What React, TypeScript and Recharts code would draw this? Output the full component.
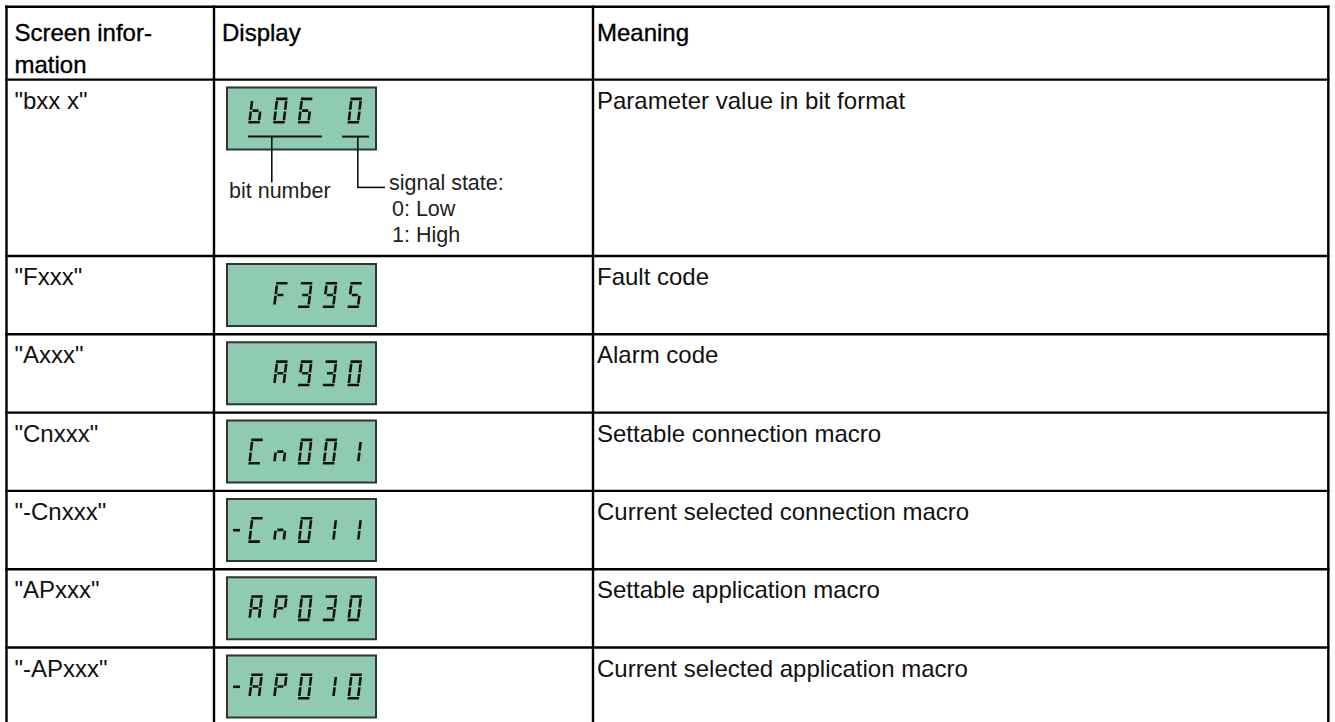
import React from "react";
import { Surface, Layer, Rectangle, Polygon, Text } from "recharts";

// table content
const headers = [["Screen infor-", "mation"], ["Display"], ["Meaning"]];
const screenInfo = ['"bxx x"', '"Fxxx"', '"Axxx"', '"Cnxxx"', '"-Cnxxx"', '"APxxx"', '"-APxxx"'];
const displayCodes = ["b06 0", "F395", "A930", "Cn001", "-Cn011", "AP030", "-AP010"];
const meanings = [
  "Parameter value in bit format",
  "Fault code",
  "Alarm code",
  "Settable connection macro",
  "Current selected connection macro",
  "Settable application macro",
  "Current selected application macro",
];
const bitLabel = "bit number";
const signalLabels = ["signal state:", "0: Low", "1: High"];

// seven segment map
const SEGMENTS: Record<string, string> = {
  "0": "abcdef",
  "1": "bc",
  "3": "abcdg",
  "5": "acdfg",
  "6": "acdefg",
  "9": "abcdfg",
  b: "cdefg",
  F: "aefg",
  A: "abcefg",
  P: "abefg",
  C: "adef",
  n: "ceg",
};

// layout (px)
const W = 1335;
const H = 722;
const FONT = "'Liberation Sans', Arial, Helvetica, sans-serif";
const colLines = [6.5, 214, 593, 1328.3];
const tableTop = 6.8;
const headerBottom = 79.6;
const firstRowH = 176.4;
const rowH = 78.3;
const lineW = 2.4;
const lcdX = 227;
const lcdW = 149;
const lcdH = 62;
const slotX0 = 248;
const slotPitch = 24.8;
const minusX = 233;

const rowTops = screenInfo.map((_, i) =>
  i === 0 ? headerBottom : headerBottom + firstRowH + (i - 1) * rowH
);
const tableBottom = rowTops[rowTops.length - 1] + rowH;

type Pt = { x: number; y: number };

function Glyph({ ch, x, y }: { ch: string; x: number; y: number }) {
  const segs = SEGMENTS[ch];
  if (!segs) return null;
  const h = 26;
  const w = 12;
  const t = 2.6;
  const k = 0.12;
  const g = 0.8;
  const m = h / 2;
  const sk = (px: number, py: number): Pt => ({ x: x + px + (h - py) * k, y: y + py });
  const hz = (yc: number, x1: number, x2: number) => [
    sk(x1, yc - t / 2),
    sk(x2, yc - t / 2),
    sk(x2, yc + t / 2),
    sk(x1, yc + t / 2),
  ];
  const vt = (xc: number, y1: number, y2: number) => [
    sk(xc - t / 2, y1),
    sk(xc + t / 2, y1),
    sk(xc + t / 2, y2),
    sk(xc - t / 2, y2),
  ];
  const geo: Record<string, Pt[]> = {
    a: hz(t / 2, 0.3, w - 0.3),
    d: hz(h - t / 2, 0.3, w - 0.3),
    g: hz(m, t + 0.4, w - t - 0.4),
    f: vt(t / 2, t + g, m - g),
    b: vt(w - t / 2, t + g, m - g),
    e: vt(t / 2, m + g, h - t - g),
    c: vt(w - t / 2, m + g, h - t - g),
  };
  return (
    <Layer>
      {segs.split("").map((s) => (
        <Polygon key={s} points={geo[s]} fill="#111" stroke="none" />
      ))}
    </Layer>
  );
}

function Lcd({ code, top, digitTop }: { code: string; top: number; digitTop: number }) {
  const minus = code.startsWith("-");
  const body = (minus ? code.slice(1) : code).padStart(5, " ");
  return (
    <Layer>
      <Rectangle x={lcdX} y={top} width={lcdW} height={lcdH} fill="#8fcbb0" stroke="#333" strokeWidth={2} />
      {minus && (
        <Rectangle x={minusX} y={digitTop + 12} width={7} height={2.6} fill="#111" />
      )}
      {body.split("").map((ch, i) => (
        <Glyph key={i} ch={ch} x={slotX0 + i * slotPitch} y={digitTop} />
      ))}
    </Layer>
  );
}

function HLine({ y, x1 = colLines[0], x2 = colLines[3] }: { y: number; x1?: number; x2?: number }) {
  return <Rectangle x={x1 - lineW / 2} y={y - lineW / 2} width={x2 - x1 + lineW} height={lineW} fill="#000" />;
}

function VLine({ x, y1, y2 }: { x: number; y1: number; y2: number }) {
  return <Rectangle x={x - lineW / 2} y={y1 - lineW / 2} width={lineW} height={y2 - y1 + lineW} fill="#000" />;
}

function BitAnnotations({ top }: { top: number }) {
  const ul = top + 49;
  return (
    <Layer>
      <Rectangle x={248} y={ul - 1} width={74} height={2} fill="#111" />
      <Rectangle x={342} y={ul - 1} width={27} height={2} fill="#111" />
      <Rectangle x={271} y={ul} width={1.6} height={46} fill="#111" />
      <Rectangle x={357} y={ul} width={1.6} height={51} fill="#111" />
      <Rectangle x={357} y={ul + 50} width={28} height={1.6} fill="#111" />
      <Text x={229} y={198} fontSize={21.5} fontFamily={FONT} fill="#222">
        {bitLabel}
      </Text>
      {signalLabels.map((s, i) => (
        <Text key={s} x={i === 0 ? 389 : 392} y={190 + i * 26} fontSize={21.5} fontFamily={FONT} fill="#222">
          {s}
        </Text>
      ))}
    </Layer>
  );
}

export default function App() {
  const textX = [14.5, 222, 597];
  return (
    <div style={{ position: "absolute", left: 0, top: 0, width: W, height: H, background: "#fff" }}>
      <Surface width={W} height={H} viewBox={{ x: 0, y: 0, width: W, height: H }}>
        <Rectangle x={0} y={0} width={W} height={H} fill="#fff" />
        {/* header */}
        {headers.map((lines, c) =>
          lines.map((l, j) => (
            <Text
              key={`${c}-${j}`}
              x={textX[c]}
              y={41 + j * 32}
              fontSize={24}
              fontFamily={FONT}
              fill="#000"
              stroke="#000"
              strokeWidth={0.35}
            >
              {l}
            </Text>
          ))
        )}
        {/* rows */}
        {screenInfo.map((label, i) => {
          const top = rowTops[i];
          return (
            <Layer key={label}>
              <Text x={textX[0]} y={top + 29} fontSize={24} fontFamily={FONT} fill="#111">
                {label}
              </Text>
              <Text x={textX[2]} y={top + 29} fontSize={24} fontFamily={FONT} fill="#111">
                {meanings[i]}
              </Text>
              <Lcd code={displayCodes[i]} top={top + 8} digitTop={top + 8 + (i === 0 ? 10 : 18)} />
              {i === 0 && <BitAnnotations top={top + 8} />}
            </Layer>
          );
        })}
        {/* grid */}
        <HLine y={tableTop} />
        <HLine y={headerBottom} />
        {rowTops.slice(1).map((y) => (
          <HLine key={y} y={y} />
        ))}
        <HLine y={tableBottom} />
        {colLines.map((x) => (
          <VLine key={x} x={x} y1={tableTop} y2={tableBottom} />
        ))}
      </Surface>
    </div>
  );
}
